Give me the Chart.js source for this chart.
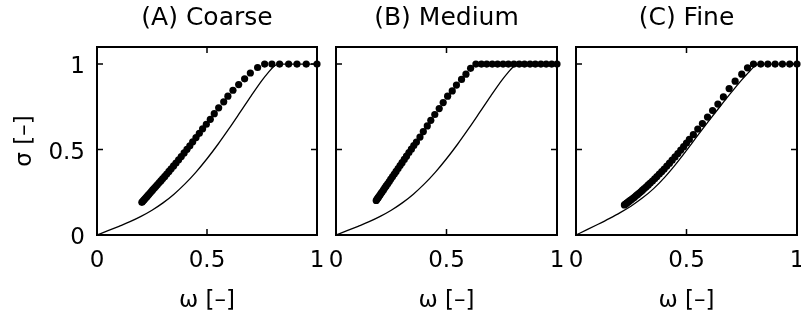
<!DOCTYPE html>
<html>
<head>
<meta charset="utf-8">
<script src="https://cdn.jsdelivr.net/npm/chart.js@4.4.1/dist/chart.umd.min.js"></script>
<style>
  html, body { margin: 0; padding: 0; background: #fff; overflow: hidden; }
  .wrap { position: absolute; left: 0; top: 0; width: 801px; height: 320px; }
  canvas { position: absolute; left: 0; top: 0; }
</style>
</head>
<body>
<div class="wrap">
  <canvas id="cA" width="801" height="320"></canvas>
  <canvas id="cB" width="801" height="320"></canvas>
  <canvas id="cC" width="801" height="320"></canvas>
</div>
<script>
// ---------- data ----------
const panelTitles = ['(A) Coarse', '(B) Medium', '(C) Fine'];
const xTicks = [0, 0.5, 1];
const xTickLabels = ['0', '0.5', '1'];
const yTicks = [0, 0.5, 1];
const yTickLabels = ['0', '0.5', '1'];
const xTitle = 'ω [–]';
const yTitle = 'σ [–]';

// solid reference curve (panels A and B)
const omegaLineAB = [0, 0.05, 0.1, 0.15, 0.2, 0.25, 0.3, 0.35, 0.4, 0.45, 0.5, 0.55, 0.6, 0.65, 0.7, 0.75, 0.78, 0.8, 0.815, 0.83, 1];
const sigmaLineAB = [0, 0.025, 0.051, 0.078, 0.109, 0.145, 0.188, 0.239, 0.299, 0.368, 0.446, 0.531, 0.622, 0.717, 0.813, 0.905, 0.953, 0.982, 0.996, 1, 1];
// solid reference curve (panel C)
const omegaLineC = [0, 0.05, 0.1, 0.15, 0.2, 0.25, 0.3, 0.35, 0.4, 0.45, 0.5, 0.55, 0.6, 0.65, 0.7, 0.75, 0.78, 0.8, 0.815, 0.83, 1];
const sigmaLineC = [0, 0.031, 0.063, 0.096, 0.131, 0.170, 0.216, 0.270, 0.336, 0.412, 0.495, 0.581, 0.666, 0.749, 0.830, 0.908, 0.950, 0.978, 0.994, 1, 1];

// dotted series, panel A (Coarse)
const omegaA = [0.204,0.208,0.212,0.216,0.221,0.226,0.231,0.236,0.242,0.248,0.254,0.261,0.268,0.275,0.283,0.291,0.299,0.308,0.317,0.327,0.337,0.348,0.359,0.371,0.383,0.396,0.409,0.422,0.435,0.450,0.465,0.480,0.497,0.515,0.533,0.553,0.576,0.595,0.618,0.644,0.671,0.697,0.730,0.762,0.795,0.830,0.871,0.909,0.951,1.000];
const sigmaA = [0.191,0.197,0.203,0.209,0.216,0.223,0.231,0.238,0.247,0.256,0.265,0.275,0.285,0.295,0.307,0.318,0.330,0.343,0.357,0.372,0.387,0.404,0.421,0.440,0.459,0.480,0.501,0.522,0.545,0.570,0.595,0.621,0.648,0.677,0.710,0.744,0.779,0.812,0.847,0.880,0.914,0.948,0.980,1,1,1,1,1,1,1];

// dotted series, panel B (Medium)
const omegaB = [0.182,0.186,0.190,0.194,0.199,0.204,0.209,0.215,0.221,0.227,0.234,0.241,0.248,0.256,0.264,0.272,0.281,0.290,0.299,0.309,0.319,0.330,0.341,0.352,0.364,0.380,0.395,0.413,0.429,0.447,0.467,0.485,0.505,0.526,0.545,0.568,0.588,0.609,0.633,0.658,0.682,0.707,0.731,0.756,0.780,0.805,0.829,0.853,0.878,0.902,0.927,0.951,0.976,1.000];
const sigmaB = [0.202,0.210,0.217,0.225,0.234,0.244,0.253,0.264,0.276,0.287,0.300,0.313,0.327,0.342,0.357,0.372,0.389,0.406,0.423,0.442,0.461,0.482,0.502,0.523,0.544,0.573,0.605,0.638,0.671,0.705,0.740,0.775,0.812,0.843,0.877,0.910,0.941,0.975,1,1,1,1,1,1,1,1,1,1,1,1,1,1,1,1];

// dotted series, panel C (Fine)
const omegaC = [0.219,0.223,0.227,0.231,0.236,0.241,0.246,0.252,0.258,0.264,0.271,0.278,0.285,0.293,0.301,0.309,0.318,0.327,0.336,0.346,0.356,0.366,0.377,0.388,0.399,0.411,0.423,0.435,0.448,0.461,0.474,0.487,0.500,0.513,0.531,0.551,0.572,0.595,0.618,0.642,0.667,0.693,0.720,0.750,0.776,0.803,0.836,0.868,0.901,0.934,0.967,1.000];
const sigmaC = [0.176,0.180,0.184,0.188,0.193,0.198,0.203,0.209,0.215,0.221,0.229,0.236,0.244,0.253,0.262,0.272,0.282,0.293,0.304,0.316,0.329,0.342,0.357,0.371,0.386,0.403,0.420,0.438,0.457,0.477,0.497,0.517,0.538,0.559,0.587,0.620,0.652,0.690,0.728,0.766,0.808,0.857,0.900,0.941,0.978,1,1,1,1,1,1,1];

// ---------- helpers ----------
const FONT = "'DejaVu Sans', 'Liberation Sans', sans-serif";
const font = { family: FONT, size: 23, weight: 'normal' };
const titleFont = { family: FONT, size: 25, weight: 'normal' };
const pts = (xs, ys) => xs.map((v, i) => ({ x: v, y: ys[i] }));

const framePlugin = {
  id: 'frame',
  beforeDatasetsDraw(chart) {
    const { ctx, chartArea: { left, right, top, bottom }, scales: { x, y } } = chart;
    ctx.save();
    ctx.strokeStyle = '#000';
    ctx.lineWidth = 2;
    ctx.strokeRect(left, top, right - left, bottom - top);
    ctx.lineWidth = 1.5;
    const L = 6;
    ctx.beginPath();
    xTicks.forEach(v => {
      const px = x.getPixelForValue(v);
      ctx.moveTo(px, bottom); ctx.lineTo(px, bottom - L);
      ctx.moveTo(px, top); ctx.lineTo(px, top + L);
    });
    yTicks.forEach(v => {
      const py = y.getPixelForValue(v);
      ctx.moveTo(left, py); ctx.lineTo(left + L, py);
      ctx.moveTo(right, py); ctx.lineTo(right - L, py);
    });
    ctx.stroke();
    ctx.restore();
  }
};

function makeChart(id, title, lineX, lineY, dotX, dotY, area, showY) {
  const yAxisWidth = showY ? area.left : 0;
  return new Chart(document.getElementById(id), {
    type: 'scatter',
    data: {
      datasets: [
        {
          data: pts(dotX, dotY),
          showLine: false,
          pointRadius: 3.6,
          pointHoverRadius: 3.6,
          pointBackgroundColor: '#000',
          pointBorderWidth: 0,
          clip: false
        },
        {
          data: pts(lineX, lineY),
          showLine: true,
          borderColor: '#000',
          borderWidth: 1.3,
          pointRadius: 0,
          cubicInterpolationMode: 'monotone',
          fill: false
        }
      ]
    },
    options: {
      responsive: false,
      animation: false,
      devicePixelRatio: 1,
      layout: { padding: { left: area.left - yAxisWidth, right: 801 - area.right, top: 0, bottom: 0 } },
      plugins: {
        legend: { display: false },
        tooltip: { enabled: false },
        title: {
          display: true, text: title, font: titleFont, color: '#000',
          padding: { top: 3, bottom: 14 }, fullSize: false
        }
      },
      scales: {
        x: {
          type: 'linear', min: 0, max: 1,
          afterBuildTicks: s => { s.ticks = xTicks.map(v => ({ value: v })); },
          afterFit: s => { s.height = 320 - area.bottom; s.paddingLeft = 0; s.paddingRight = 0; },
          grid: { display: false, drawTicks: false },
          border: { display: false },
          ticks: {
            padding: 12, font: font, color: '#000', maxRotation: 0, autoSkip: false,
            callback: (v, i) => xTickLabels[i]
          },
          title: { display: true, text: xTitle, font: font, color: '#000', padding: { top: 0, bottom: 5 } }
        },
        y: {
          type: 'linear', min: 0, max: 1.1, display: showY,
          afterBuildTicks: s => { s.ticks = yTicks.map(v => ({ value: v })); },
          afterFit: s => { s.width = yAxisWidth; s.paddingTop = 0; s.paddingBottom = 0; },
          grid: { display: false, drawTicks: false },
          border: { display: false },
          ticks: {
            padding: 12, labelOffset: 3, font: font, color: '#000',
            callback: (v, i) => yTickLabels[i]
          },
          title: { display: true, text: yTitle, font: font, color: '#000', padding: { top: 11, bottom: 0 } }
        }
      }
    },
    plugins: [framePlugin]
  });
}

makeChart('cA', panelTitles[0], omegaLineAB, sigmaLineAB, omegaA, sigmaA, { left: 97, right: 317, bottom: 235 }, true);
makeChart('cB', panelTitles[1], omegaLineAB, sigmaLineAB, omegaB, sigmaB, { left: 336, right: 557, bottom: 235 }, false);
makeChart('cC', panelTitles[2], omegaLineC, sigmaLineC, omegaC, sigmaC, { left: 576, right: 797, bottom: 235 }, false);
</script>
</body>
</html>
